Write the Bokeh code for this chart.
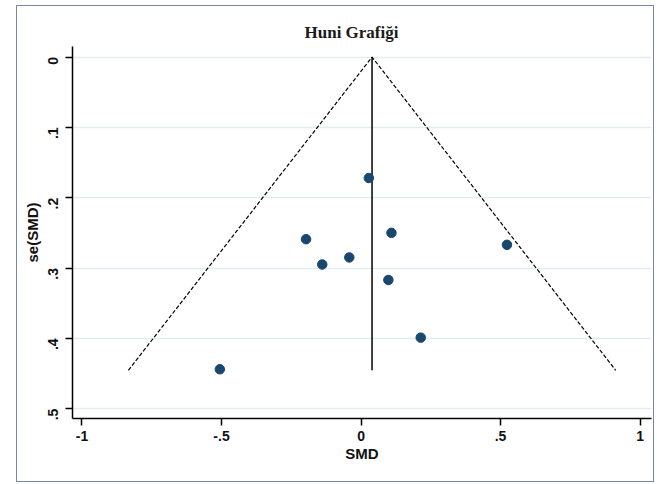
import math
from bokeh.plotting import figure
from bokeh.models import Range1d, FixedTicker
from bokeh.embed import file_html
from bokeh.resources import INLINE

# Study data
smd = [0.028, -0.197, -0.139, -0.042, 0.109, 0.523, 0.098, 0.214, -0.506]
se_smd = [0.172, 0.259, 0.295, 0.285, 0.250, 0.267, 0.317, 0.399, 0.444]

# Pooled estimate and funnel extent
pooled = 0.0395
se_max = 0.4455
z = 1.96

x_ticks = [-1, -0.5, 0, 0.5, 1]
x_tick_labels = ["-1", "-.5", "0", ".5", "1"]
y_ticks = [0, 0.1, 0.2, 0.3, 0.4, 0.5]
y_tick_labels = ["0", ".1", ".2", ".3", ".4", ".5"]

p = figure(width=638, height=477, output_backend="svg", toolbar_location=None,
           x_range=Range1d(-1.034, 1.041), y_range=Range1d(0.514, -0.015),
           min_border_left=55, min_border_right=4, min_border_top=40, min_border_bottom=65)

p.styles = {"border": "1.5px solid #7489a3", "margin-left": "16px", "margin-top": "5px"}

p.background_fill_color = "white"
p.border_fill_color = "white"
p.outline_line_color = None

p.title.text = "Huni Grafiği"
p.title.align = "left"
p.title.offset = 232
p.title.text_font = "Liberation Serif"
p.title.text_font_style = "bold"
p.title.text_font_size = "17px"
p.title.text_color = "#1a1a1a"

# axes
for ax in (p.xaxis[0], p.yaxis[0]):
    ax.axis_line_width = 1.5
    ax.axis_line_color = "black"
    ax.major_tick_line_width = 1.5
    ax.major_tick_out = 7
    ax.major_tick_in = 0
    ax.minor_tick_line_color = None
    ax.major_label_text_font = "Liberation Sans"
    ax.major_label_text_font_size = "14px"
    ax.major_label_text_font_style = "bold"
    ax.major_label_text_color = "#111111"
    ax.axis_label_text_font = "Liberation Sans"
    ax.axis_label_text_font_size = "15px"
    ax.axis_label_text_font_style = "bold"
    ax.axis_label_text_color = "#111111"

p.xaxis.ticker = FixedTicker(ticks=x_ticks)
p.xaxis.major_label_overrides = dict(zip(x_ticks, x_tick_labels))
p.xaxis.axis_label = "SMD"
p.xaxis.major_label_standoff = 5
p.xaxis.axis_label_standoff = 1

p.yaxis.ticker = FixedTicker(ticks=y_ticks)
p.yaxis.major_label_overrides = dict(zip(y_ticks, y_tick_labels))
p.yaxis.major_label_orientation = math.pi / 2
p.yaxis.major_label_standoff = 12
p.yaxis.axis_label = "se(SMD)"
p.yaxis.axis_label_standoff = 0

p.xgrid.grid_line_color = None
p.ygrid.grid_line_color = "#e0eef1"
p.ygrid.grid_line_width = 1.5
p.ygrid.ticker = FixedTicker(ticks=y_ticks)

# funnel (pseudo 95% limits)
fx = [pooled - z * se_max, pooled, pooled + z * se_max]
fy = [se_max, 0, se_max]
p.line(fx, fy, line_color="black", line_dash="4 2", line_width=1.2)

# pooled estimate line
p.line([pooled, pooled], [0, se_max], line_color="black", line_width=1.5)

# studies
p.scatter(smd, se_smd, marker="circle", size=9.5, fill_color="#1a476f", line_color="#1a476f")

open("out.html", "w").write(file_html(p, INLINE))
